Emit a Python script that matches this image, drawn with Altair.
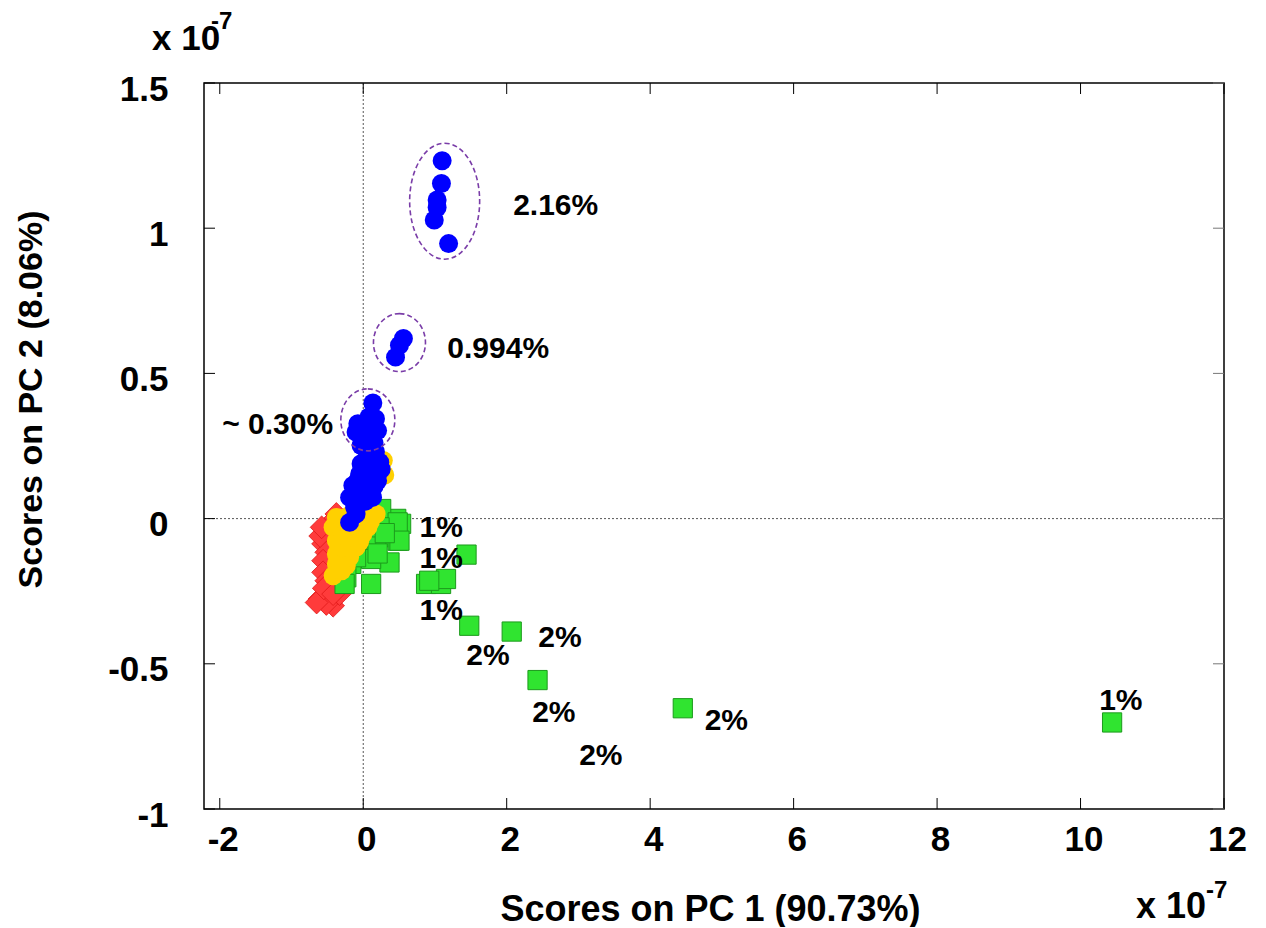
import altair as alt
import pandas as pd

# ---------------- data (units of 1e-7) ----------------
blue_x = [1.10, 1.09, 1.03, 1.03, 0.99, 1.19,
          0.56, 0.505, 0.45,
          0.134, 0.171, -0.075, 0.04, 0.20, -0.10, 0.05, -0.03, 0.23, -0.03, 0.09,
          -0.05, 0.20, 0.12, -0.145, 0.09, 0.20, -0.19, 0.13, -0.075, 0.03, -0.10, -0.19,
          0.15, 0.06, 0.17, -0.08, 0.00, 0.05, -0.12, 0.15, 0.25, 0.08, 0.00]
blue_y = [1.232, 1.154, 1.097, 1.071, 1.028, 0.947,
          0.620, 0.597, 0.556,
          0.398, 0.344, 0.327, 0.315, 0.303, 0.298, 0.290, 0.252, 0.194, 0.189, 0.206,
          0.154, 0.154, 0.170, 0.114, 0.108, 0.130, 0.073, 0.073, 0.050, 0.060, 0.016, -0.013,
          0.260, 0.220, 0.230, 0.130, 0.090, 0.140, 0.040, 0.110, 0.170, 0.350, 0.280]

yellow_x = [-0.375, -0.42, 0.04, 0.065, -0.375, -0.236, -0.10, -0.375, -0.19, -0.375,
            -0.236, -0.42, -0.005, -0.10, -0.30, 0.18, 0.28, 0.30,
            -0.30, -0.20, 0.10, -0.30, -0.30, -0.25, -0.15, -0.05]
yellow_y = [0.004, -0.030, 0.004, -0.030, -0.076, -0.087, -0.099, -0.122, -0.133, -0.156,
            -0.162, -0.197, -0.053, -0.018, -0.040, 0.016, 0.200, 0.150,
            0.000, 0.010, -0.010, -0.100, -0.180, -0.060, -0.060, -0.080]

red_x = [-0.375, -0.47, -0.56, -0.515, -0.56, -0.56, -0.515, -0.61, -0.47, -0.42,
         -0.33, -0.515, -0.375, -0.65, -0.45, -0.60, -0.55, -0.42, -0.58]
red_y = [0.016, -0.018, -0.087, -0.116, -0.145, -0.185, -0.214, -0.277, -0.271, -0.300,
         -0.260, -0.294, -0.237, -0.289, -0.050, -0.060, -0.240, -0.260, -0.030]

green_x = [1.44, 0.876, 1.085, 1.154, 0.92, 1.478, 2.07, 2.43, 4.455, 10.44,
           0.528, 0.435, 0.366, 0.48, 0.46, 0.25, 0.48, 0.505, 0.18, 0.11,
           0.11, -0.167, -0.236, -0.26, -0.10, 0.04, 0.227, 0.30, 0.20]
green_y = [-0.124, -0.225, -0.225, -0.208, -0.214, -0.369, -0.389, -0.556, -0.653, -0.702,
           -0.018, -0.064, -0.151, -0.076, -0.001, 0.033, -0.013, -0.076, -0.099, -0.139,
           -0.225, -0.156, -0.202, -0.225, -0.133, -0.064, -0.030, -0.050, -0.120]

label_text = ["2.16%", "0.994%", "1%", "1%", "1%", "2%", "2%", "2%", "2%", "2%", "1%"]
label_x = [2.09, 1.172, 0.784, 0.784, 0.784, 1.437, 2.44, 2.355, 3.01, 4.76, 10.26]
label_y = [1.076, 0.583, -0.034, -0.138, -0.317, -0.472, -0.410, -0.669, -0.817, -0.697, -0.628]

tilde_text = ["~ 0.30%"]
tilde_x = [-0.42]
tilde_y = [0.324]

ell_x = [1.135, 0.505, 0.064]
ell_y = [1.093, 0.606, 0.340]
ell_rx = [35, 26, 27]   # px
ell_ry = [58, 29, 31]   # px

x_ticks = [-2, 0, 2, 4, 6, 8, 10, 12]
y_ticks = [-1, -0.5, 0, 0.5, 1, 1.5]

# ---------------- layout ----------------
W, H = 1020, 726
FONT = "Liberation Sans"
TL = 11  # inner tick length

def ellipse_path(a):
    k = 0.5523
    return (f"M0,-1 C{k*a:.4f},-1 {a:.4f},{-k:.4f} {a:.4f},0 "
            f"C{a:.4f},{k:.4f} {k*a:.4f},1 0,1 "
            f"C{-k*a:.4f},1 {-a:.4f},{k:.4f} {-a:.4f},0 "
            f"C{-a:.4f},{-k:.4f} {-k*a:.4f},-1 0,-1 Z")

xscale = alt.Scale(domain=[-2.22, 12], nice=False, zero=False)
yscale = alt.Scale(domain=[-1, 1.5], nice=False, zero=False)

xaxis = alt.Axis(values=x_ticks, labelExpr="toString(datum.value)", ticks=False, domain=False,
                 grid=False, labelFont=FONT, labelFontWeight="bold", labelFontSize=35,
                 labelColor="black", labelPadding=13, labelFlush=False, labelOverlap=False,
                 labelOffset=3,
                 title="Scores on PC 1 (90.73%)", titleFont=FONT, titleFontWeight="bold",
                 titleFontSize=36, titleColor="black", titleX=506, titleY=111,
                 titleBaseline="alphabetic", titleAlign="center")
yaxis = alt.Axis(values=y_ticks, labelExpr="toString(datum.value)", ticks=False, domain=False,
                 grid=False, labelFont=FONT, labelFontWeight="bold", labelFontSize=35,
                 labelColor="black", labelPadding=36, labelFlush=False, labelOverlap=False,
                 labelOffset=6,
                 title="Scores on PC 2 (8.06%)", titleFont=FONT, titleFontWeight="bold",
                 titleFontSize=34, titleColor="black", titleX=-163, titleY=316,
                 titleBaseline="alphabetic", titleAlign="center", titleAngle=270)

X = alt.X("x:Q", scale=xscale, axis=xaxis)
Y = alt.Y("y:Q", scale=yscale, axis=yaxis)

df_blue = pd.DataFrame({"x": blue_x, "y": blue_y})
df_yellow = pd.DataFrame({"x": yellow_x, "y": yellow_y})
df_red = pd.DataFrame({"x": red_x, "y": red_y})
df_green = pd.DataFrame({"x": green_x, "y": green_y})
df_lab = pd.DataFrame({"x": label_x, "y": label_y, "label": label_text})
df_tilde = pd.DataFrame({"x": tilde_x, "y": tilde_y, "label": tilde_text})
df_ell = pd.DataFrame({
    "x": ell_x, "y": ell_y,
    "path": [ellipse_path(rx / ry) for rx, ry in zip(ell_rx, ell_ry)],
    "size": [4 * ry * ry for ry in ell_ry],
})
df_xt = pd.DataFrame({"x": x_ticks})
df_yt = pd.DataFrame({"y": y_ticks})
df_zero_x = pd.DataFrame({"x": [0]})
df_zero_y = pd.DataFrame({"y": [0]})

zero_v = alt.Chart(df_zero_x).mark_rule(color="#444", strokeWidth=0.9, strokeDash=[2, 2]).encode(
    x=X, y=alt.value(0), y2=alt.value(H))
zero_h = alt.Chart(df_zero_y).mark_rule(color="#444", strokeWidth=0.9, strokeDash=[2, 2]).encode(
    y=Y, x=alt.value(0), x2=alt.value(W))

tick_b = alt.Chart(df_xt).mark_rule(color="black", strokeWidth=1).encode(
    x=X, y=alt.value(H), y2=alt.value(H - TL))
tick_t = alt.Chart(df_xt).mark_rule(color="black", strokeWidth=1).encode(
    x=X, y=alt.value(0), y2=alt.value(TL))
tick_l = alt.Chart(df_yt).mark_rule(color="black", strokeWidth=1).encode(
    y=Y, x=alt.value(0), x2=alt.value(TL))
tick_r = alt.Chart(df_yt).mark_rule(color="#777", strokeWidth=1).encode(
    y=Y, x=alt.value(W), x2=alt.value(W - TL))

red = alt.Chart(df_red).mark_point(shape="diamond", filled=True, fill="#FF3B3B",
                                   stroke="#E01818", strokeWidth=0.8, size=520,
                                   opacity=1).encode(x=X, y=Y)
green = alt.Chart(df_green).mark_point(shape="square", filled=True, fill="#30E430",
                                       stroke="#1C9A1C", strokeWidth=1, size=370,
                                       opacity=1).encode(x=X, y=Y)
yellow = alt.Chart(df_yellow).mark_circle(color="#FFD000", size=360, opacity=1).encode(x=X, y=Y)
blue = alt.Chart(df_blue).mark_circle(color="#0000FF", size=360, opacity=1).encode(x=X, y=Y)

ellipses = alt.Chart(df_ell).mark_point(filled=False, color="#7A3DA8", strokeWidth=1.6,
                                        strokeDash=[5, 3], opacity=1).encode(
    x=X, y=Y,
    shape=alt.Shape("path:N", scale=None),
    size=alt.Size("size:Q", scale=None))

labels = alt.Chart(df_lab).mark_text(align="left", baseline="middle", font=FONT,
                                     fontWeight="bold", fontSize=30, color="black").encode(
    x=X, y=Y, text="label:N")
tilde = alt.Chart(df_tilde).mark_text(align="right", baseline="middle", font=FONT,
                                      fontWeight="bold", fontSize=30, color="black").encode(
    x=X, y=Y, text="label:N")

def ann(txt, px, py, fs):
    return alt.Chart(pd.DataFrame({"t": [txt]})).mark_text(
        align="left", baseline="alphabetic", font=FONT, fontWeight="bold",
        fontSize=fs, color="black").encode(x=alt.value(px), y=alt.value(py), text="t:N")

exp_tl = ann("x 10", -52, -33, 35)
exp_tl_s = ann("-7", 7, -54, 24)
exp_br = ann("x 10", 932, 835, 36)
exp_br_s = ann("-7", 1002, 815, 24)

chart = alt.layer(
    zero_v, zero_h, tick_b, tick_t, tick_l, tick_r,
    red, green, yellow, blue, ellipses, labels, tilde,
    exp_tl, exp_tl_s, exp_br, exp_br_s
).properties(
    width=W, height=H,
    autosize=alt.AutoSizeParams(type="none"),
    padding={"left": 196, "top": 75, "right": 34, "bottom": 118},
).configure_view(stroke="black", strokeWidth=1.5)

chart.save("out.html", embed_options={"renderer": "svg", "actions": False})
